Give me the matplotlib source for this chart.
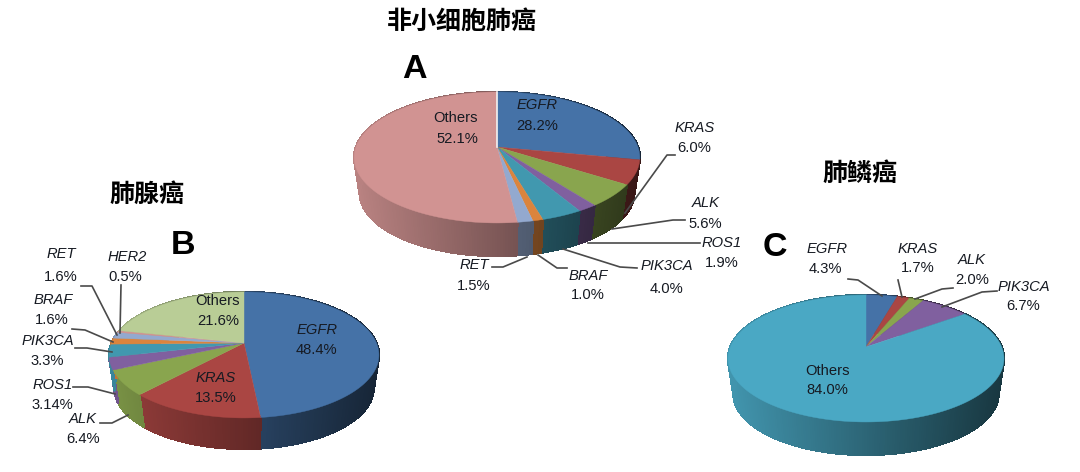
#Description: Three 3D looking pie charts of driver mutations in lung cancer

import numpy as np
import matplotlib.pyplot as plt
from matplotlib.collections import PolyCollection
from matplotlib.colors import to_rgb
from matplotlib.patches import Polygon

plt.rcParams['font.family'] = ['Liberation Sans', 'Noto Sans CJK SC', 'DejaVu Sans']

#The data, slices run clockwise from 12 o'clock
nsclc_genes = ['EGFR', 'KRAS', 'ALK', 'ROS1', 'PIK3CA', 'BRAF', 'RET', 'Others']
nsclc_values = [28.2, 6.0, 5.6, 1.9, 4.0, 1.0, 1.5, 52.1]
nsclc_labels = ['28.2%', '6.0%', '5.6%', '1.9%', '4.0%', '1.0%', '1.5%', '52.1%']

adeno_genes = ['EGFR', 'KRAS', 'ALK', 'ROS1', 'PIK3CA', 'BRAF', 'RET', 'HER2', 'Others']
adeno_values = [48.4, 13.5, 6.4, 3.14, 3.3, 1.6, 1.6, 0.5, 21.6]
adeno_labels = ['48.4%', '13.5%', '6.4%', '3.14%', '3.3%', '1.6%', '1.6%', '0.5%', '21.6%']

squamous_genes = ['EGFR', 'KRAS', 'ALK', 'PIK3CA', 'Others']
squamous_values = [4.3, 1.7, 2.0, 6.7, 84.0]
squamous_labels = ['4.3%', '1.7%', '2.0%', '6.7%', '84.0%']

#Colors
BLUE, RED, GREEN, PURPLE = '#4572A7', '#AA4643', '#89A54E', '#80609F'
TEAL, ORANGE, LIGHTBLUE = '#4198AF', '#DB843D', '#93A9CF'
PINK, LIGHTGREEN, SKY = '#D19392', '#B9CD96', '#4AA8C4'
nsclc_colors = [BLUE, RED, GREEN, PURPLE, TEAL, ORANGE, LIGHTBLUE, PINK]
adeno_colors = [BLUE, RED, GREEN, PURPLE, TEAL, ORANGE, LIGHTBLUE, PINK, LIGHTGREEN]
squamous_colors = [BLUE, RED, GREEN, PURPLE, SKY]

#Label layout in pixels: name x, name y, value x, value y
nsclc_pos = [(537, 105, 537, 126), (695, 128, 694, 148), (706, 203, 705, 224),
             (722, 243, 722, 263), (667, 266, 666, 289), (588, 276, 588, 295),
             (474, 265, 474, 286), (455, 118, 457, 139)]
adeno_pos = [(317, 330, 316, 350), (216, 378, 216, 398), (83, 419, 83, 439),
             (53, 385, 52, 405), (48, 341, 47, 361), (53, 300, 52, 320),
             (61, 254, 61, 277), (127, 257, 125, 277), (218, 301, 218, 321)]
squamous_pos = [(827, 249, 825, 269), (918, 249, 918, 268), (972, 260, 972, 280),
                (1024, 287, 1023, 306), (827, 371, 827, 390)]

#Leader lines in pixels
nsclc_leaders = [[(675, 155), (667, 155), (625, 213)], [(685, 220), (673, 220), (612, 229)],
                 [(700, 243), (588, 243)], [(637, 268), (620, 267), (563, 249)],
                 [(567, 268), (557, 268), (538, 255)], [(492, 267), (503, 267), (527, 257)]]
adeno_leaders = [[(81, 286), (92, 286), (117, 335)], [(121, 285), (120, 333)],
                 [(72, 329), (85, 330), (113, 342)], [(75, 348), (87, 348), (112, 352)],
                 [(73, 387), (88, 387), (115, 394)], [(100, 423), (112, 423), (128, 415)]]
squamous_leaders = [[(848, 279), (858, 280), (882, 296)], [(898, 280), (902, 297)],
                    [(953, 288), (942, 289), (915, 299)], [(997, 291), (982, 292), (942, 307)]]


# Project a point of the unit disc onto the picture, the back of the pie is squeezed
def project(t, r, geo):
    cx, cy, a, b, p = geo
    x = r * np.sin(t)
    y = r * np.cos(t)
    w = 1 + p * y
    return cx + a * x / w, cy - b * y / w


# Draw the rim first and the slices on top of it, the bottom of the pie is a bit smaller
def draw_pie(ax, values, colors, geo, depth, shrink=0.96):
    fracs = np.array(values) / np.sum(values)
    edges = 2 * np.pi * np.concatenate([[0], np.cumsum(fracs)])
    left = geo[0] - geo[2]
    width = 2 * geo[2]
    drop = depth + (1 - shrink) * geo[3] * 1.2

    for i, color in enumerate(colors):
        n = max(int(fracs[i] * 400), 3)
        t = np.linspace(edges[i], edges[i + 1], n)
        xs, ys = project(t, 1, geo)
        xb = geo[0] + (xs - geo[0]) * shrink
        yb = geo[1] + (ys - geo[1]) * shrink + drop
        quads = []
        shades = []
        rgb = np.array(to_rgb(color))
        for j in range(n - 1):
            quads.append([(xs[j], ys[j]), (xs[j + 1], ys[j + 1]),
                          (xb[j + 1], yb[j + 1]), (xb[j], yb[j])])
            u = (xs[j] - left) / width
            shades.append(rgb * (0.88 - 0.55 * u))
        ax.add_collection(PolyCollection(quads, facecolors=shades, edgecolors=shades,
                                         linewidths=1.0, antialiased=False, zorder=2))

    for i, color in enumerate(colors):
        n = max(int(fracs[i] * 400), 3)
        t = np.linspace(edges[i], edges[i + 1], n)
        xs, ys = project(t, 1, geo)
        pts = [(geo[0], geo[1])] + list(zip(xs, ys))
        ax.add_patch(Polygon(pts, closed=True, facecolor=color, edgecolor=color,
                             linewidth=0.3, zorder=3))


# Two lines of text for each slice, gene names are in italics
def draw_labels(ax, genes, labels, pos):
    for gene, label, (nx, ny, vx, vy) in zip(genes, labels, pos):
        style = 'normal' if gene == 'Others' else 'italic'
        ax.text(nx, ny, gene, fontsize=10.6, style=style, color='#161a22',
                ha='center', va='center', zorder=5)
        ax.text(vx, vy, label, fontsize=10.6, color='#161a22',
                ha='center', va='center', zorder=5)


def draw_leaders(ax, leaders):
    for line in leaders:
        ax.plot([q[0] for q in line], [q[1] for q in line], color='#4a4a4a',
                linewidth=1.2, zorder=4)


fig = plt.figure(figsize=(10.8, 4.72), dpi=100)
ax = fig.add_axes([0, 0, 1, 1])
ax.set_xlim(0, 1080)
ax.set_ylim(472, 0)
ax.axis('off')

#center x, center y, x radius, y radius, perspective
nsclc_geo = (497, 147, 141, 63.8, 0.16)
adeno_geo = (244, 343, 132.5, 60.7, 0.19)
squamous_geo = (866, 347, 135.7, 61.4, 0.181)

draw_pie(ax, nsclc_values, nsclc_colors, nsclc_geo, 33)
draw_pie(ax, adeno_values, adeno_colors, adeno_geo, 31)
draw_pie(ax, squamous_values, squamous_colors, squamous_geo, 33)

#The small white gap at the top of pie A
ax.plot([497, 497], [92, 147], color='#f2f2f2', linewidth=1.2, zorder=4)

draw_leaders(ax, nsclc_leaders)
draw_leaders(ax, adeno_leaders)
draw_leaders(ax, squamous_leaders)

draw_labels(ax, nsclc_genes, nsclc_labels, nsclc_pos)
draw_labels(ax, adeno_genes, adeno_labels, adeno_pos)
draw_labels(ax, squamous_genes, squamous_labels, squamous_pos)

#Titles and panel letters
ax.text(462, 22, '非小细胞肺癌', fontsize=18, fontweight='bold', family='Noto Sans CJK SC',
        ha='center', va='center')
ax.text(147, 195, '肺腺癌', fontsize=18, fontweight='bold', family='Noto Sans CJK SC',
        ha='center', va='center')
ax.text(860, 174, '肺鳞癌', fontsize=18, fontweight='bold', family='Noto Sans CJK SC',
        ha='center', va='center')
ax.text(414, 69, 'A', fontsize=24.5, fontweight='bold', ha='center', va='center')
ax.text(183, 246, 'B', fontsize=24.5, fontweight='bold', ha='center', va='center')
ax.text(775, 247, 'C', fontsize=24.5, fontweight='bold', ha='center', va='center')

plt.savefig('out.png', dpi=100)
